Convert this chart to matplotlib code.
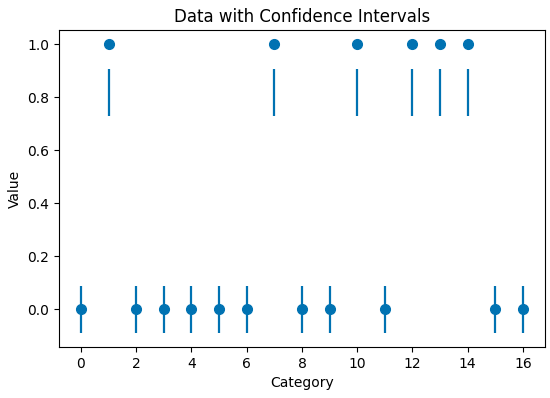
import matplotlib
matplotlib.use('Agg')
import matplotlib.pyplot as plt
import numpy as np

categories = list(range(17))
values = [0, 1, 0, 0, 0, 0, 0, 1, 0, 0, 1, 0, 1, 1, 1, 0, 0]
# interval bounds as drawn in the picture
ci_low = [-0.088 if v == 0 else 0.729 for v in values]
ci_high = [0.088 if v == 0 else 0.908 for v in values]

color = '#0072B2'

fig, ax = plt.subplots(figsize=(5.5, 3.98), dpi=100)
fig.subplots_adjust(left=0.107, right=0.991, top=0.925, bottom=0.128)

ax.vlines(categories, ci_low, ci_high, color=color, linewidth=1.6)
ax.plot(categories, values, 'o', color=color, markersize=7)

ax.set_title('Data with Confidence Intervals')
ax.set_xlabel('Category')
ax.set_ylabel('Value')
ax.set_xticks(range(0, 17, 2))

fig.savefig('out.png', dpi=100)
